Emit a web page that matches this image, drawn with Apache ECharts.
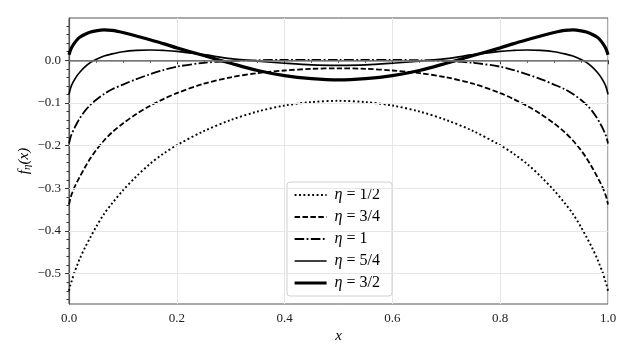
<!DOCTYPE html>
<html>
<head>
<meta charset="utf-8">
<script src="https://cdn.jsdelivr.net/npm/echarts@6/dist/echarts.min.js"></script>
<style>
  html, body { margin: 0; padding: 0; background: #fff; }
  #chart { width: 630px; height: 360px; }
</style>
</head>
<body>
<div id="chart"></div>
<script>
var xs = [0, 0.0025, 0.005, 0.01, 0.015, 0.02, 0.03, 0.04, 0.05, 0.065, 0.08, 0.1, 0.125, 0.15, 0.175, 0.2, 0.25, 0.3, 0.35, 0.4, 0.45, 0.5,
          0.55, 0.6, 0.65, 0.7, 0.75, 0.8, 0.825, 0.85, 0.875, 0.9, 0.92, 0.935, 0.95, 0.96, 0.97, 0.98, 0.985, 0.99, 0.995, 0.9975, 1];

// f_eta(x) for each eta
var eta12 = [-0.540, -0.527, -0.517, -0.497, -0.481, -0.465, -0.438, -0.414, -0.391, -0.360, -0.335, -0.305, -0.272, -0.243, -0.219, -0.199, -0.166, -0.140, -0.120, -0.106, -0.098, -0.095,
             -0.098, -0.106, -0.120, -0.140, -0.166, -0.199, -0.219, -0.243, -0.272, -0.305, -0.335, -0.360, -0.391, -0.414, -0.438, -0.465, -0.481, -0.497, -0.517, -0.527, -0.540];
var eta34 = [-0.338, -0.324, -0.314, -0.298, -0.285, -0.273, -0.250, -0.229, -0.211, -0.188, -0.169, -0.148, -0.126, -0.107, -0.091, -0.077, -0.055, -0.040, -0.030, -0.024, -0.020, -0.019,
             -0.020, -0.024, -0.030, -0.040, -0.055, -0.077, -0.091, -0.107, -0.126, -0.148, -0.169, -0.188, -0.211, -0.229, -0.250, -0.273, -0.285, -0.298, -0.314, -0.324, -0.338];
var eta1  = [-0.195, -0.182, -0.173, -0.159, -0.147, -0.136, -0.118, -0.104, -0.093, -0.079, -0.068, -0.057, -0.044, -0.033, -0.023, -0.015, -0.006, -0.002, 0.000, 0.001, 0.001, 0.001,
             0.001, 0.001, 0.000, -0.002, -0.006, -0.015, -0.023, -0.033, -0.044, -0.057, -0.068, -0.079, -0.093, -0.104, -0.118, -0.136, -0.147, -0.159, -0.173, -0.182, -0.195];
var eta54 = [-0.080, -0.067, -0.058, -0.046, -0.036, -0.028, -0.015, -0.005, 0.002, 0.010, 0.015, 0.020, 0.023, 0.024, 0.023, 0.021, 0.013, 0.004, -0.002, -0.007, -0.011, -0.012,
             -0.011, -0.007, -0.002, 0.004, 0.013, 0.021, 0.023, 0.024, 0.023, 0.020, 0.015, 0.010, 0.002, -0.005, -0.015, -0.028, -0.036, -0.046, -0.058, -0.067, -0.080];
var eta32 = [0.013, 0.023, 0.030, 0.040, 0.048, 0.054, 0.061, 0.066, 0.069, 0.071, 0.070, 0.065, 0.057, 0.048, 0.039, 0.029, 0.011, -0.007, -0.024, -0.036, -0.043, -0.046,
             -0.043, -0.036, -0.024, -0.007, 0.011, 0.029, 0.039, 0.048, 0.057, 0.065, 0.070, 0.071, 0.069, 0.066, 0.061, 0.054, 0.048, 0.040, 0.030, 0.023, 0.013];

var seriesNames = ['η = 1/2', 'η = 3/4', 'η = 1', 'η = 5/4', 'η = 3/2'];

// tick labels
var yMajorTicks = [-0.5, -0.4, -0.3, -0.2, -0.1, 0.0];
var yMinorTicks = [-0.56, -0.54, -0.52, -0.48, -0.46, -0.44, -0.42, -0.38, -0.36, -0.34, -0.32,
                   -0.28, -0.26, -0.24, -0.22, -0.18, -0.16, -0.14, -0.12, -0.08, -0.06, -0.04, -0.02, 0.02, 0.04, 0.06, 0.08];

var font = 'Liberation Serif';

function pairs(ys) {
  return xs.map(function (x, i) { return [x, ys[i]]; });
}
function minus(v) {
  return v.toFixed(1).replace('-', '\u2212');
}

var chart = echarts.init(document.getElementById('chart'));

// line style per eta
var styles = [
  { color: '#000', width: 1.9, type: [1.9, 2.5] },
  { color: '#000', width: 1.8, type: [5.5, 2.4] },
  { color: '#000', width: 1.8, type: [9.6, 2.4, 1.8, 2.4] },
  { color: '#000', width: 1.7, type: 'solid' },
  { color: '#000', width: 3.2, type: 'solid' }
];
var values = [eta12, eta34, eta1, eta54, eta32];

var series = values.map(function (v, i) {
  return {
    name: seriesNames[i],
    type: 'line',
    data: pairs(v),
    smooth: 0.3,
    symbol: 'none',
    z: 4,
    lineStyle: styles[i],
    itemStyle: { color: '#000' }
  };
});

// grid lines and the zero line
series.push({
  name: 'grid',
  type: 'line',
  data: [[0, -0.571]],
  symbol: 'none',
  silent: true,
  z: 1,
  lineStyle: { opacity: 0 },
  markLine: {
    silent: true,
    symbol: 'none',
    label: { show: false },
    lineStyle: { color: '#e6e6e6', width: 1, type: 'solid' },
    data: yMajorTicks.filter(function (v) { return v !== 0; }).map(function (v) { return { yAxis: v }; })
  }
});
series.push({
  name: 'zero',
  type: 'line',
  data: [[0, 0]],
  symbol: 'none',
  silent: true,
  z: 3,
  lineStyle: { opacity: 0 },
  markLine: {
    silent: true,
    symbol: 'none',
    label: { show: false },
    lineStyle: { color: '#808080', width: 1.5, type: 'solid' },
    data: [{ yAxis: 0 }]
  }
});

var option = {
  backgroundColor: '#fff',
  animation: false,
  grid: {
    left: 69, right: 22, top: 18, bottom: 56,
    show: true, borderColor: '#555', borderWidth: 1
  },
  legend: {
    data: seriesNames.map(function (n, i) {
      return { name: n, lineStyle: styles[i] };
    }),
    orient: 'vertical',
    left: 287, top: 182,
    itemWidth: 32, itemHeight: 12,
    itemGap: 6,
    padding: [5, 12, 5, 6],
    borderColor: '#d0d0d0', borderWidth: 1, borderRadius: 3,
    backgroundColor: 'rgba(255,255,255,0.85)',
    itemStyle: { opacity: 0 },
    textStyle: {
      fontFamily: font, fontSize: 16, color: '#000', padding: [0, 0, 0, 3],
      rich: { i: { fontFamily: font, fontStyle: 'italic', fontSize: 16 } }
    },
    formatter: function (name) {
      return '{i|η} ' + name.slice(2);
    }
  },
  xAxis: {
    type: 'value',
    min: 0, max: 1, interval: 0.2,
    name: 'x',
    nameLocation: 'middle',
    nameGap: 25,
    nameMoveOverlap: false,
    nameTextStyle: { fontFamily: font, fontStyle: 'italic', fontSize: 15, color: '#000' },
    axisLine: { lineStyle: { color: '#555', width: 1.2 } },
    axisTick: { show: true, length: 4, inside: false, lineStyle: { color: '#333' } },
    minorTick: { show: true, splitNumber: 4, length: 2.5, lineStyle: { color: '#333' } },
    axisLabel: { fontFamily: font, fontSize: 13, color: '#222', margin: 8, formatter: minus },
    splitLine: { show: true, lineStyle: { color: '#e6e6e6', width: 1 } }
  },
  yAxis: [
    {
      type: 'value',
      min: -0.571, max: 0.099,
      name: '{f|f}{s|η}{f|(x)}',
      nameLocation: 'middle',
      nameRotate: 90,
      nameGap: 36,
      nameMoveOverlap: false,
      nameTextStyle: {
        color: '#000',
        rich: {
          f: { fontFamily: font, fontStyle: 'italic', fontSize: 15, color: '#000' },
          s: { fontFamily: font, fontStyle: 'italic', fontSize: 11, color: '#000', verticalAlign: 'bottom', padding: [6, 0, 0, 0] }
        }
      },
      axisLine: { show: true, lineStyle: { color: '#555', width: 1.2 } },
      axisTick: { show: true, length: 4, customValues: yMajorTicks, lineStyle: { color: '#333' } },
      axisLabel: { fontFamily: font, fontSize: 13, color: '#222', margin: 8, customValues: yMajorTicks, formatter: minus },
      splitLine: { show: false }
    },
    {
      type: 'value',
      min: -0.571, max: 0.099,
      position: 'left',
      axisLine: { show: false },
      axisTick: { show: true, length: 2.5, customValues: yMinorTicks, lineStyle: { color: '#333' } },
      axisLabel: { show: false },
      splitLine: { show: false }
    }
  ],
  series: series
};

chart.setOption(option);
</script>
</body>
</html>
